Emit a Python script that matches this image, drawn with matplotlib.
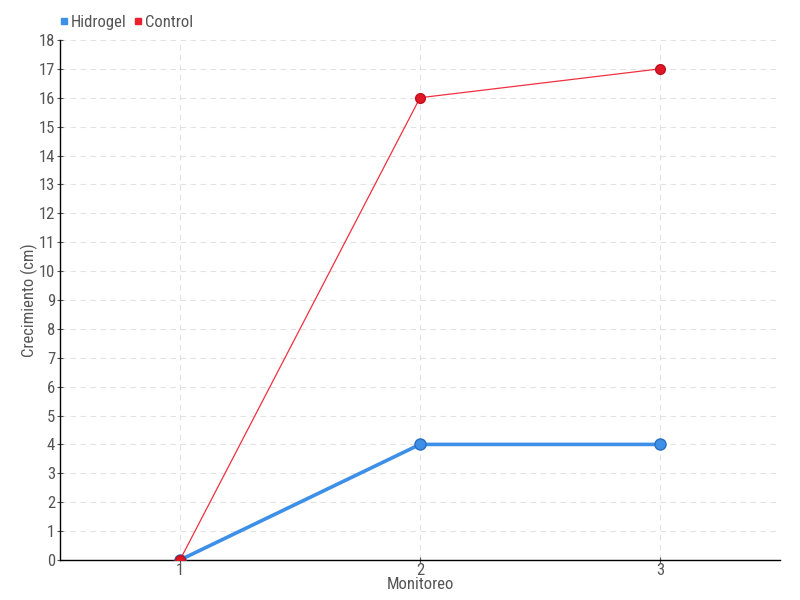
import matplotlib
matplotlib.use('Agg')
import matplotlib.pyplot as plt
from matplotlib.lines import Line2D
from matplotlib import font_manager

# datos del gráfico
monitoreo = [1, 2, 3]
hidrogel = [0, 4, 4]
control = [0, 16, 17]

# buscar una fuente estrecha si existe
nombres = {f.name for f in font_manager.fontManager.ttflist}
familia = ['DejaVu Sans']
for n in ['Liberation Sans Narrow', 'DejaVu Sans Condensed', 'Roboto Condensed', 'Open Sans Condensed']:
    if n in nombres:
        familia = [n, 'DejaVu Sans']
        break
plt.rcParams['font.family'] = familia
plt.rcParams['font.stretch'] = 'condensed'

fig = plt.figure(figsize=(8, 6), dpi=100)
ax = fig.add_axes([0.075, 0.0667, 0.9, 0.8667])

ax.plot(monitoreo, hidrogel, color='#3d8fe8', linewidth=2.6, marker='o',
        markersize=8, markerfacecolor='#3d8fe8', markeredgecolor='#2a6fc0',
        label='Hidrogel', zorder=3)
ax.plot(monitoreo, control, color='#f03040', linewidth=0.9, marker='o',
        markersize=7, markerfacecolor='#e01825', markeredgecolor='#c01020',
        label='Control', zorder=4)

ax.set_xlim(0.5, 3.5)
ax.set_ylim(0, 18)
ax.set_xticks(monitoreo)
ax.set_yticks(range(0, 19))
ax.grid(True, color='#e2e2e2', linestyle=(0, (5, 4)), linewidth=0.8)
ax.set_axisbelow(True)

for s in ['top', 'right']:
    ax.spines[s].set_visible(False)
ax.spines['left'].set_linewidth(1)
ax.spines['bottom'].set_linewidth(1)
ax.tick_params(axis='both', colors='#555555', labelsize=12, length=5, direction='inout')
ax.tick_params(axis='x', pad=0)
ax.tick_params(axis='y', pad=1)

ax.set_xlabel('Monitoreo', fontsize=12, color='#555555', labelpad=-1)
ax.set_ylabel('Crecimiento (cm)', fontsize=12, color='#555555')
ax.yaxis.set_label_coords(-0.031, 0.5)

handles = [Line2D([], [], marker='s', linestyle='none', color='#3d8fe8', markersize=4),
           Line2D([], [], marker='s', linestyle='none', color='#ee2030', markersize=4)]
fig.legend(handles, ['Hidrogel', 'Control'], loc='upper left', bbox_to_anchor=(0.053, 1.0),
           ncol=2, frameon=False, fontsize=12, handletextpad=0.0, columnspacing=0.3,
           handlelength=0.8, labelcolor='#555555')

fig.savefig('out.png', dpi=100)
